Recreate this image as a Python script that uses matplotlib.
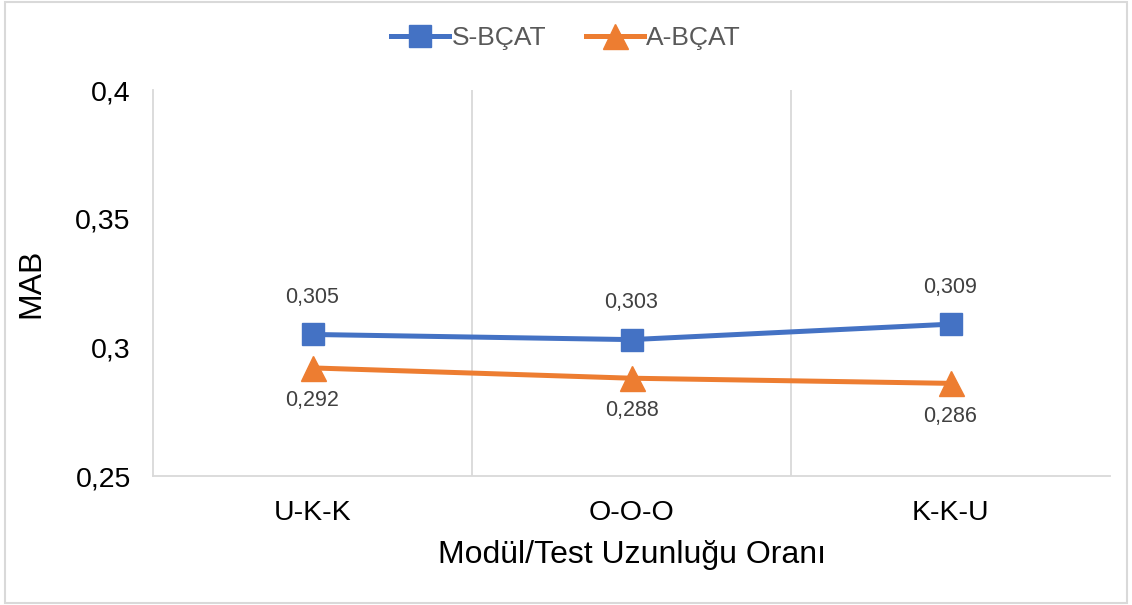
import matplotlib.pyplot as plt
from matplotlib.patches import Rectangle

plt.rcParams['font.family'] = ['Liberation Sans', 'DejaVu Sans']

categories = ['U-K-K', 'O-O-O', 'K-K-U']
s_bcat = [0.305, 0.303, 0.309]
a_bcat = [0.292, 0.288, 0.286]
yticks = [0.25, 0.3, 0.35, 0.4]
ytick_labels = ['0,25', '0,3', '0,35', '0,4']

blue = '#4472C4'
orange = '#ED7D31'
grid_c = '#D9D9D9'

fig = plt.figure(figsize=(11.32, 6.05), dpi=100)
ax = fig.add_axes([153/1132, 1-476/605, (1110-153)/1132, (476-90)/605])

x = range(len(categories))
ax.plot(x, s_bcat, color=blue, lw=3.6, marker='s', ms=16.5, label='S-BÇAT', zorder=3)
ax.plot(x, a_bcat, color=orange, lw=3.6, marker='^', ms=18, label='A-BÇAT', zorder=3)

for i, v in enumerate(s_bcat):
    ax.annotate(f'{v:.3f}'.replace('.', ','), (i, v), xytext=(0, 19), textcoords='offset points',
                ha='center', va='bottom', fontsize=15.5, color='#404040')
for i, v in enumerate(a_bcat):
    ax.annotate(f'{v:.3f}'.replace('.', ','), (i, v), xytext=(0, -16), textcoords='offset points',
                ha='center', va='top', fontsize=15.5, color='#404040')

ax.set_xlim(-0.5, 2.5)
ax.set_ylim(0.25, 0.4)
ax.set_yticks(yticks)
ax.set_yticklabels(ytick_labels)
ax.set_xticks(list(x))
ax.set_xticklabels(categories)
ax.tick_params(length=0, labelsize=20.5, colors='black')
ax.tick_params(axis='y', pad=16)
ax.tick_params(axis='x', pad=17)

# vertical separators between categories
ax.set_xticks([0.5, 1.5], minor=True)
ax.tick_params(which='minor', length=0)
ax.grid(axis='x', which='minor', color=grid_c, lw=1.3)

for s in ['top', 'right']:
    ax.spines[s].set_visible(False)
ax.spines['left'].set_color(grid_c)
ax.spines['bottom'].set_color(grid_c)
ax.spines['left'].set_linewidth(1.3)
ax.spines['bottom'].set_linewidth(1.3)

ax.set_ylabel('MAB', fontsize=23, labelpad=21)
ax.set_xlabel('Modül/Test Uzunluğu Oranı', fontsize=23, labelpad=10)

leg = fig.legend(loc='center', bbox_to_anchor=(0.5, 1-38/605), ncol=2, frameon=False,
                 fontsize=19, handlelength=2.2, columnspacing=1.5, handletextpad=0.1,
                 labelcolor='#595959')

fig.patches.append(Rectangle((0.004, 0.004), 0.992, 0.992, transform=fig.transFigure,
                             fill=False, edgecolor=grid_c, lw=1.5))

fig.savefig('out.png', dpi=100)
